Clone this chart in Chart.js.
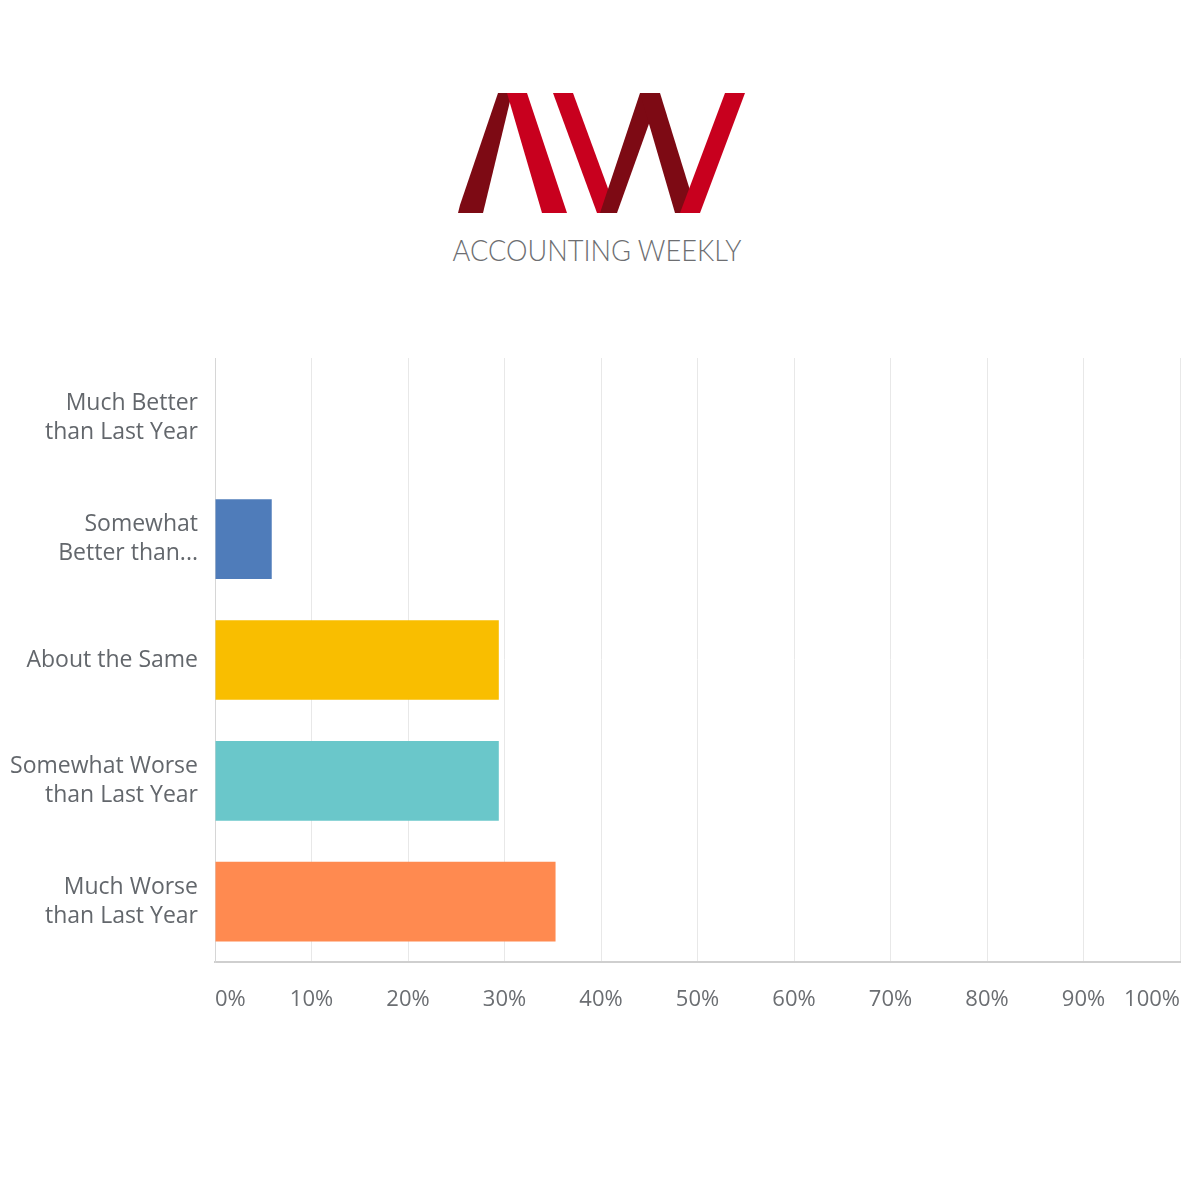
<!DOCTYPE html>
<html>
<head>
<meta charset="utf-8">
<script src="https://cdn.jsdelivr.net/npm/chart.js@4/dist/chart.umd.min.js"></script>
<style>
  body { margin: 0; background: #fff; width: 1200px; height: 1200px; position: relative; overflow: hidden; }
  #logo { position: absolute; left: 0; top: 0; }
  .chart-box { position: absolute; left: 0; top: 340px; width: 1182px; height: 700px; }
</style>
</head>
<body>
<svg id="logo" width="1200" height="300" viewBox="0 0 1200 300">
  <!-- A -->
  <polygon points="458,213 483,213 512,93 498,93 460,205" fill="#7d0a14"/>
  <polygon points="507,93 527,93 567,213 542,213" fill="#c8001e"/>
  <!-- W -->
  <polygon points="553,93 573,93 617,213 597,213" fill="#c8001e"/>
  <polygon points="600,213 617,213 660,93 640,93" fill="#7d0a14"/>
  <polygon points="640,93 660,93 697,213 675,213" fill="#7d0a14"/>
  <polygon points="680,213 700,213 745,93 725,93" fill="#c8001e"/>
  <text x="597" y="261" text-anchor="middle" font-family="Lato" font-weight="300" font-size="29" fill="#6d6e71" textLength="289" lengthAdjust="spacingAndGlyphs">ACCOUNTING WEEKLY</text>
</svg>
<div class="chart-box"><canvas id="chart"></canvas></div>
<script>
const categories = [
  ['Much Better', 'than Last Year'],
  ['Somewhat', 'Better than...'],
  'About the Same',
  ['Somewhat Worse', 'than Last Year'],
  ['Much Worse', 'than Last Year']
];
const percentValues = [0, 5.88, 29.41, 29.41, 35.29];
const barColors = ['#4f7cba', '#4f7cba', '#f9be00', '#6ac7ca', '#ff8a50'];
const xTicks = [0, 10, 20, 30, 40, 50, 60, 70, 80, 90, 100];

const canvas = document.querySelector('#chart');

// no extra padding from the end labels, the layout padding decides the plot box
let noPadding = (axis) => {
  axis.paddingLeft = 0;
  axis.paddingRight = 0;
  axis.paddingTop = 0;
  axis.paddingBottom = 0;
};

let chart = new Chart(canvas, {
  type: 'bar',
  data: {
    labels: categories,
    datasets: [{
      data: percentValues,
      backgroundColor: barColors,
      borderWidth: 0,
      barPercentage: 0.66,
      categoryPercentage: 1
    }]
  },
  options: {
    indexAxis: 'y',
    responsive: true,
    maintainAspectRatio: false,
    animation: false,
    layout: { padding: { top: 18, right: 2, left: 0, bottom: 0 } },
    plugins: { legend: { display: false }, tooltip: { enabled: false } },
    scales: {
      x: {
        min: 0,
        max: 100,
        afterBuildTicks: (axis) => { axis.ticks = xTicks.map(v => ({ value: v })); },
        afterFit: (axis) => { noPadding(axis); axis.height = 78; },
        grid: { color: '#e8e8e8', lineWidth: 1, drawTicks: false },
        border: { color: '#cfcfcf', width: 2 },
        ticks: {
          align: 'inner',
          padding: 25,
          color: '#6b6e72',
          font: { family: 'Open Sans', size: 22 },
          callback: (v) => v + '%'
        }
      },
      y: {
        afterFit: (axis) => { noPadding(axis); axis.width = 215; },
        grid: { display: false, drawTicks: false },
        border: { color: '#d6d6d6', width: 1 },
        ticks: {
          padding: 17,
          color: '#63676c',
          font: { family: 'Open Sans', size: 23, lineHeight: 1.26 }
        }
      }
    }
  }
});
</script>
</body>
</html>
